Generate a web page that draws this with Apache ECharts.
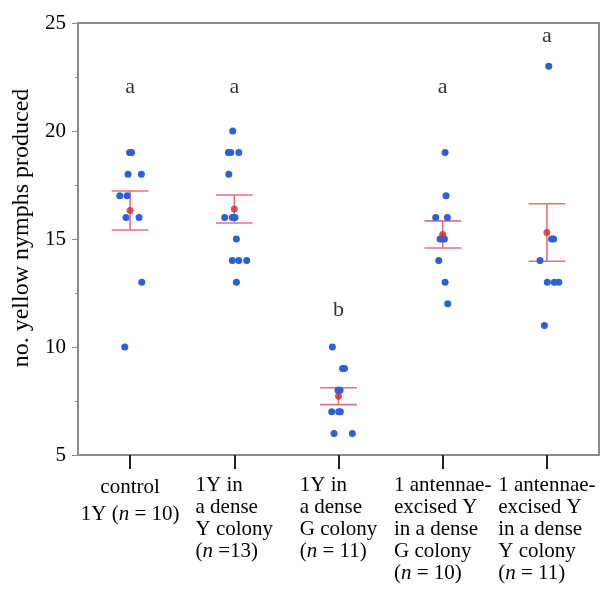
<!DOCTYPE html>
<html>
<head>
<meta charset="utf-8">
<script src="https://cdn.jsdelivr.net/npm/echarts@6/dist/echarts.min.js"></script>
<style>
html,body{margin:0;padding:0;background:#fff;}
#chart{width:614px;height:593px;}
</style>
</head>
<body>
<div id="chart"></div>
<script>
// ---- data ----
const categories = [
  'control\n1Y (n = 10)',
  '1Y in\na dense\nY colony\n(n =13)',
  '1Y in\na dense\nG colony\n(n = 11)',
  '1 antennae-\nexcised Y\nin a dense\nG colony\n(n = 10)',
  '1 antennae-\nexcised Y\nin a dense\nY colony\n(n = 11)'
];
const yTicks = [5, 10, 15, 20, 25];
// individual observations per group: values and horizontal jitter (in category units)
const g1Values = [19, 19, 18, 18, 17, 17, 16, 16, 13, 10];
const g1Jitter = [-0.005, 0.014, -0.02, 0.108, -0.099, -0.029, -0.039, 0.086, 0.112, -0.051];
const g2Values = [20, 19, 19, 19, 18, 16, 16, 16, 15, 14, 14, 14, 13];
const g2Jitter = [-0.015, -0.057, -0.034, 0.043, -0.053, -0.092, -0.019, 0.007, 0.020, -0.019, 0.043, 0.119, 0.020];
const g3Values = [10, 9, 9, 8, 8, 8, 7, 7, 7, 6, 6];
const g3Jitter = [-0.059, 0.039, 0.058, -0.004, 0.015, 0.005, -0.065, 0.002, 0.018, -0.043, 0.133];
const g4Values = [19, 17, 16, 16, 15, 15, 15, 14, 13, 12];
const g4Jitter = [0.023, 0.032, -0.067, 0.045, -0.025, 0.016, -0.006, -0.038, 0.023, 0.048];
const g5Values = [23, 15, 15, 14, 13, 13, 13, 11];
const g5Jitter = [0.018, 0.045, 0.064, -0.066, 0.004, 0.071, 0.114, -0.024];
// group means and standard errors
const means = [16.32, 16.39, 7.72, 15.21, 15.30];
const sems = [0.90, 0.65, 0.39, 0.63, 1.33];
// significance letters and their heights
const letters = ['a', 'a', 'b', 'a', 'a'];
const letterY = [22.03, 22.03, 11.72, 22.03, 24.38];

const groupValues = [g1Values, g2Values, g3Values, g4Values, g5Values];
const groupJitter = [g1Jitter, g2Jitter, g3Jitter, g4Jitter, g5Jitter];

const FONT = '"Liberation Serif", "Times New Roman", serif';
const points = [];
groupValues.forEach((vals, gi) => {
  vals.forEach((v, k) => points.push([gi + groupJitter[gi][k], v]));
});

const chart = echarts.init(document.getElementById('chart'), null, {renderer: 'canvas'});

function labelFormatter(value, index) {
  const s = index === 0 ? 'c' : 'l';
  return value.split('\n').map(line => {
    const m = line.indexOf('(n');
    if (m < 0) return '{' + s + '|' + line + '}';
    return '{' + s + '|' + line.slice(0, m + 1) + '}{' + s + 'i|n}{' + s + '|' + line.slice(m + 2) + '}';
  }).join('\n');
}

const baseText = {fontFamily: FONT, fontSize: 21, color: '#000'};

chart.setOption({
  animation: false,
  backgroundColor: '#fff',
  grid: {left: 78, top: 23, width: 521, height: 432, show: true, borderColor: '#8a8a8a', borderWidth: 2, backgroundColor: 'transparent'},
  xAxis: [
    {
      type: 'category',
      data: categories,
      axisLine: {show: true, lineStyle: {color: '#8a8a8a', width: 2}},
      axisTick: {show: true, alignWithLabel: true, length: 14, lineStyle: {color: '#222', width: 2}},
      axisLabel: {
        interval: 0, margin: 19, formatter: labelFormatter, align: 'center', verticalAlign: 'top',
        rich: {
          c: Object.assign({}, baseText, {lineHeight: 27, align: 'center'}),
          ci: Object.assign({}, baseText, {lineHeight: 27, align: 'center', fontStyle: 'italic'}),
          l: Object.assign({}, baseText, {lineHeight: 22, align: 'left'}),
          li: Object.assign({}, baseText, {lineHeight: 22, align: 'left', fontStyle: 'italic'})
        }
      },
      splitLine: {show: false}
    },
    {
      type: 'value', min: -0.5, max: 4.5, show: false
    }
  ],
  yAxis: {
    type: 'value', min: 5, max: 25, interval: 5,
    name: 'no. yellow nymphs produced',
    nameLocation: 'middle', nameGap: 43, nameRotate: 90,
    nameTextStyle: Object.assign({}, baseText, {fontSize: 24, padding: [0, 0, 0, 22]}),
    axisLine: {show: true, onZero: false, lineStyle: {color: '#8a8a8a', width: 2}},
    axisTick: {show: true, length: 6, lineStyle: {color: '#8a8a8a', width: 1}},
    minorTick: {show: true, splitNumber: 2, length: 3, lineStyle: {color: '#8a8a8a', width: 1}},
    axisLabel: Object.assign({}, baseText, {margin: 12, customValues: yTicks}),
    splitLine: {show: false}
  },
  series: [
    {
      type: 'custom',
      xAxisIndex: 0,
      z: 3,
      data: means.map((m, i) => [i, m - sems[i], m + sems[i]]),
      renderItem: function (params, api) {
        const x = api.value(0);
        const lo = api.coord([x, api.value(1)]);
        const hi = api.coord([x, api.value(2)]);
        const half = api.size([1, 0])[0] * 0.176;
        const st = {stroke: '#e5707f', lineWidth: 1.6};
        return {
          type: 'group',
          children: [
            {type: 'line', shape: {x1: lo[0], y1: lo[1], x2: hi[0], y2: hi[1]}, style: st},
            {type: 'line', shape: {x1: lo[0] - half, y1: lo[1], x2: lo[0] + half, y2: lo[1]}, style: st},
            {type: 'line', shape: {x1: hi[0] - half, y1: hi[1], x2: hi[0] + half, y2: hi[1]}, style: st}
          ]
        };
      }
    },
    {
      type: 'scatter',
      xAxisIndex: 1,
      z: 4,
      symbolSize: 7,
      itemStyle: {color: '#2d5fd8', opacity: 1},
      data: points
    },
    {
      type: 'scatter',
      xAxisIndex: 1,
      z: 5,
      symbolSize: 7,
      itemStyle: {color: '#d2263a'},
      data: means.map((m, i) => [i, m])
    },
    {
      type: 'scatter',
      xAxisIndex: 1,
      z: 5,
      symbolSize: 0,
      silent: true,
      label: {show: true, position: 'inside', formatter: p => letters[p.dataIndex], fontFamily: FONT, fontSize: 22, color: '#000'},
      data: letterY.map((v, i) => [i, v])
    }
  ]
});
</script>
</body>
</html>
